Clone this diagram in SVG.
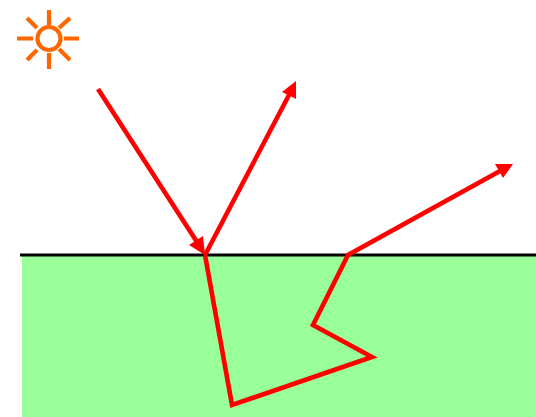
<svg xmlns="http://www.w3.org/2000/svg" width="536" height="417" viewBox="0 0 536 417">
<style>.ray{fill:none;stroke:#ff0000;stroke-width:4.6}.head{fill:#ff0000}.sun{fill:none;stroke:#ff6600;stroke-width:4.2}</style>
<rect width="536" height="417" fill="#fff"/>
<g id="ground"><rect x="22" y="255" width="514" height="162" fill="#99ff99"/><line x1="20" y1="255" x2="536" y2="255" stroke="#000" stroke-width="3"/></g>
<g id="sun" class="sun"><circle cx="49" cy="38.5" r="11.5"/><path d="M49 10V25M49 53V69M17 38.5H33M64 38.5H79M27 18L37 28M59 49L70 60M27 60L37 50M59 28L70 18"/></g>
<g id="connectors">
<path class="ray" d="M98 89L197 242"/><polygon class="head" points="205,255 189,245 203,236"/>
<path class="ray" d="M205 255L289 95"/><polygon class="head" points="296,81 296,99 282,92"/>
<path class="ray" d="M205 255L232 405L372 357L313 325L348 255L500 171"/><polygon class="head" points="513,164 503,178 495,164"/>
</g>
</svg>
